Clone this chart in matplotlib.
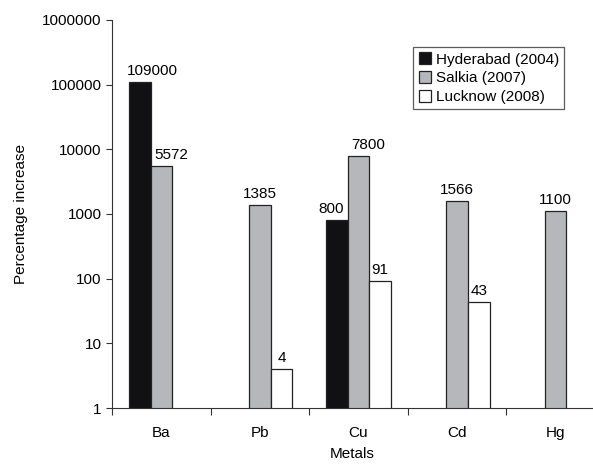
import numpy as np
import matplotlib.pyplot as plt
from matplotlib.transforms import offset_copy

plt.rcParams['font.family'] = ['Liberation Sans', 'DejaVu Sans']

metals = ['Ba', 'Pb', 'Cu', 'Cd', 'Hg']
hyderabad = [109000, np.nan, 800, np.nan, np.nan]
salkia = [5572, 1385, 7800, 1566, 1100]
lucknow = [np.nan, 4, 91, 43, np.nan]

# sideways nudge (points) for value labels that would crowd a neighbour
nudge = {109000: 9, 5572: 7, 7800: 7, 800: -4}

series = [('Hyderabad (2004)', hyderabad, '#111113'),
          ('Salkia (2007)', salkia, '#b5b7ba'),
          ('Lucknow (2008)', lucknow, 'white')]

fig = plt.figure(figsize=(5.93, 4.67), dpi=100)
ax = fig.add_axes([0.189, 0.1263, 0.811, 0.831])

x = np.arange(len(metals))
w = 0.22
for i, (name, vals, col) in enumerate(series):
    pos = x + (i - 1) * w
    v = np.array(vals, dtype=float)
    ok = ~np.isnan(v)
    ax.bar(pos[ok], v[ok], w, color=col, edgecolor='#222222', linewidth=0.9, label=name)
    for p, val in zip(pos[ok], v[ok]):
        tr = offset_copy(ax.transData, fig=fig, x=nudge.get(int(val), 0), y=3, units='points')
        ax.text(p, val, f'{int(val)}', ha='center', va='bottom', fontsize=11, transform=tr)

ax.set_yscale('log')
ax.set_ylim(1, 1e6)
ax.set_yticks([1, 10, 100, 1000, 10000, 100000, 1000000])
ax.set_yticklabels(['1', '10', '100', '1000', '10000', '100000', '1000000'])
ax.yaxis.set_minor_locator(plt.NullLocator())
ax.set_xlim(-0.5, 4.38)
ax.set_xticks(np.arange(-0.5, 4.0, 1.0))
ax.set_xticklabels([])
ax.set_xticks(x, minor=True)
ax.set_xticklabels(metals, minor=True)
ax.tick_params(axis='x', which='minor', length=0, pad=13, labelsize=11)
ax.tick_params(axis='x', which='major', length=5, color='#333333')
ax.tick_params(axis='y', length=4, labelsize=11, color='#333333')

for s in ['top', 'right']:
    ax.spines[s].set_visible(False)
for s in ['left', 'bottom']:
    ax.spines[s].set_color('#333333')

ax.set_xlabel('Metals', fontsize=11, labelpad=5)
ax.set_ylabel('Percentage increase', fontsize=11, labelpad=10)

leg = ax.legend(loc='upper right', bbox_to_anchor=(0.94, 0.93), fontsize=11, frameon=True,
                fancybox=False, edgecolor='#333333', handlelength=0.8, handleheight=0.8,
                handletextpad=0.3, borderpad=0.35, labelspacing=0.3, borderaxespad=0)
leg.get_frame().set_linewidth(0.9)

fig.savefig('out.png', dpi=100)
